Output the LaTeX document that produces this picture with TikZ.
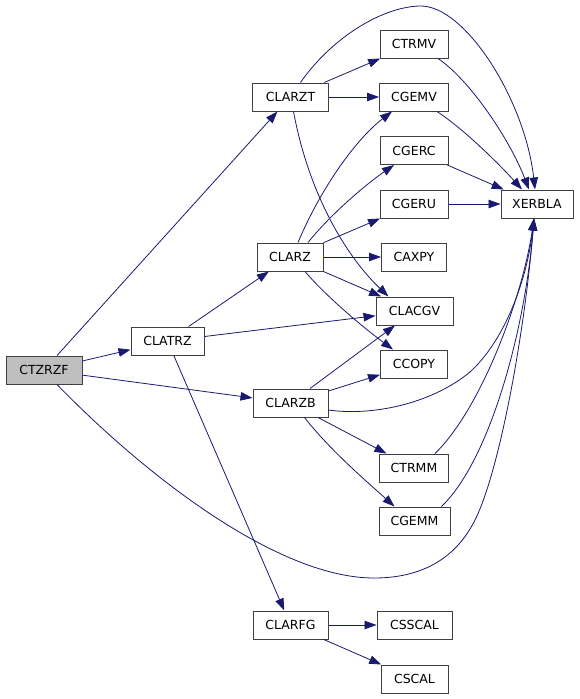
\documentclass[tikz,border=0pt]{standalone}
\usepackage{fontspec}
\setmainfont{DejaVu Sans}
\usetikzlibrary{arrows.meta,calc}
\definecolor{edgeblue}{RGB}{25,25,112}
\definecolor{boxline}{RGB}{64,64,64}
\definecolor{boxfill}{RGB}{191,191,191}
\begin{document}
\begin{tikzpicture}[x=1pt,y=-1pt,
  fn/.style={draw=boxline,line width=1pt,fill=white,minimum height=28pt,inner sep=0pt,
    font=\fontsize{12.5}{14}\selectfont,text=black},
  cur/.style={fn,fill=boxfill},
  edge/.style={draw=edgeblue,line width=0.8pt,-{Triangle[length=12pt,width=8.5pt]}}]
\useasboundingbox (0,0) rectangle (579,699);
\node[cur,minimum width=76pt] (CTZRZF) at (44,370) {CTZRZF};
\node[fn,minimum width=73pt] (CLATRZ) at (167.5,341) {CLATRZ};
\node[fn,minimum width=76pt] (CLARZT) at (290.5,97) {CLARZT};
\node[fn,minimum width=66pt] (CLARZ) at (290,257) {CLARZ};
\node[fn,minimum width=75pt] (CLARZB) at (290.5,403) {CLARZB};
\node[fn,minimum width=75pt] (CLARFG) at (290.5,625) {CLARFG};
\node[fn,minimum width=68pt] (CTRMV) at (414,44) {CTRMV};
\node[fn,minimum width=69pt] (CGEMV) at (414,97) {CGEMV};
\node[fn,minimum width=68pt] (CGERC) at (414,150.5) {CGERC};
\node[fn,minimum width=68pt] (CGERU) at (414,204) {CGERU};
\node[fn,minimum width=65pt] (CAXPY) at (414,257) {CAXPY};
\node[fn,minimum width=77pt] (CLACGV) at (414.5,311) {CLACGV};
\node[fn,minimum width=67pt] (CCOPY) at (414,364) {CCOPY};
\node[fn,minimum width=69pt] (CTRMM) at (414,468) {CTRMM};
\node[fn,minimum width=71pt] (CGEMM) at (414.5,521) {CGEMM};
\node[fn,minimum width=75pt] (CSSCAL) at (414.5,625) {CSSCAL};
\node[fn,minimum width=67pt] (CSCAL) at (414.5,679) {CSCAL};
\node[fn,minimum width=72pt] (XERBLA) at (537,204) {XERBLA};
% straight edges
\draw[edge] (CTZRZF) -- (CLATRZ);
\draw[edge] (CTZRZF) -- (CLARZT);
\draw[edge] (CTZRZF) -- (CLARZB);
\draw[edge] (CLATRZ) -- (CLARZ);
\draw[edge] (CLATRZ) -- (CLACGV);
\draw[edge] (CLATRZ) -- (CLARFG);
\draw[edge] (CLARZT) -- (CTRMV);
\draw[edge] (CLARZT) -- (CGEMV);
\draw[edge] (CLARZ) -- (CGERU);
\draw[edge] (CLARZ) -- (CAXPY);
\draw[edge] (CLARZ) -- (CLACGV);
\draw[edge] (CLARZB) -- (CLACGV);
\draw[edge] (CLARZB) -- (CCOPY);
\draw[edge] (CLARZB) -- (CTRMM);
\draw[edge] (CGERC) -- (XERBLA);
\draw[edge] (CGERU) -- (XERBLA);
\draw[edge] (CLARFG) -- (CSSCAL);
\draw[edge] (CLARFG) -- (CSCAL);
% curved edges
\draw[edge] ($(CTZRZF.south)+(13,0)$) .. controls (150,480) and (280,578) .. (374,578)
  .. controls (420,578) and (455,560) .. (475,520)
  .. controls (500,470) and (525,330) .. ($(XERBLA.south)+(-3,0)$);
\draw[edge] ($(CLARZT.north)+(10,0)$) .. controls (330,40) and (380,7) .. (420,6)
  .. controls (465,5) and (525,100) .. ($(XERBLA.north)+(-2,0)$);
\draw[edge] ($(CLARZT.south)+(3,0)$) .. controls (310,200) and (350,260) .. ($(CLACGV.north)+(-26,0)$);
\draw[edge] ($(CLARZ.north)+(8,0)$) .. controls (320,190) and (355,140) .. ($(CGEMV.south)+(-22,0)$);
\draw[edge] ($(CLARZ.north)+(18,0)$) .. controls (330,215) and (365,185) .. ($(CGERC.south)+(-20,0)$);
\draw[edge] ($(CLARZ.south)+(15,0)$) .. controls (325,295) and (360,325) .. ($(CCOPY.north)+(-21,0)$);
\draw[edge] ($(CLARZB.east)+(0,7)$) .. controls (370,416) and (430,405) .. (470,372)
  .. controls (505,340) and (527,280) .. ($(XERBLA.south)+(-3,0)$);
\draw[edge] ($(CLARZB.south)+(14,0)$) .. controls (330,450) and (365,480) .. ($(CGEMM.north)+(-20,0)$);
\draw[edge] ($(CTRMM.north)+(21,0)$) .. controls (480,410) and (522,300) .. ($(XERBLA.south)+(-3,0)$);
\draw[edge] ($(CGEMM.north)+(27,0)$) .. controls (490,460) and (525,330) .. ($(XERBLA.south)+(-3,0)$);
\draw[edge] ($(CTRMV.south)+(24,0)$) .. controls (470,80) and (510,140) .. ($(XERBLA.north)+(-8,0)$);
\draw[edge] ($(CGEMV.south)+(23,0)$) .. controls (465,130) and (500,165) .. ($(XERBLA.north)+(-15,0)$);
\end{tikzpicture}
\end{document}
